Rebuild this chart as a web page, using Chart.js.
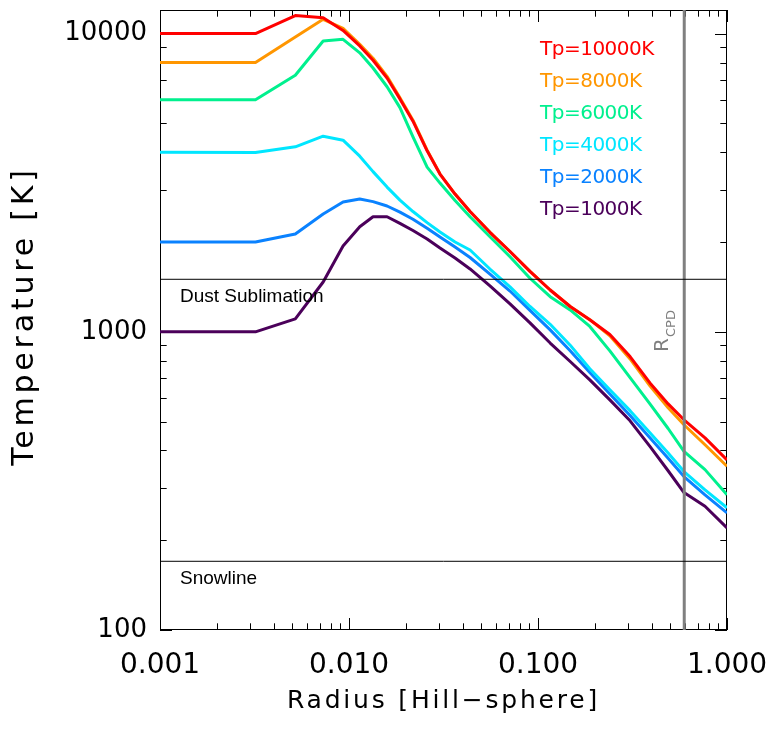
<!DOCTYPE html>
<html>
<head>
<meta charset="utf-8">
<title>Temperature vs radius</title>
<script src="https://cdn.jsdelivr.net/npm/chart.js@4.4.1/dist/chart.umd.min.js"></script>
<style>
  html, body { margin: 0; padding: 0; background: #fff; }
  #wrap { width: 773px; height: 729px; }
</style>
</head>
<body>
<div id="wrap"><canvas id="tempChart"></canvas></div>
<script>
// radius in Hill-sphere units
const radius = [0.001, 0.0032, 0.0052, 0.0073, 0.0093, 0.0114, 0.0134, 0.0159, 0.0186, 0.0218,
                0.0259, 0.0303, 0.0364, 0.0437, 0.0557, 0.0711, 0.0907, 0.116, 0.148, 0.188,
                0.240, 0.307, 0.391, 0.488, 0.592, 0.765, 1.0];

// temperature [K] for each planet temperature Tp
const tp10000 = [10000, 10000, 11500, 11300, 10250, 9090, 8140, 7100, 6040, 5085,
                 4046, 3380, 2896, 2531, 2156, 1859, 1594, 1381, 1216, 1098,
                 979, 826, 674, 573, 507, 441, 372];
const tp8000 = [8000, 8000, 9740, 11170, 10420, 9210, 8270, 7190, 6095, 5124,
                4066, 3380, 2896, 2531, 2156, 1859, 1594, 1381, 1216, 1098,
                969, 811, 659, 556, 488, 418, 354];
const tp6000 = [6000, 6000, 7250, 9445, 9570, 8620, 7667, 6635, 5646, 4508,
                3566, 3153, 2756, 2431, 2084, 1785, 1512, 1312, 1184, 1042,
                863, 702, 573, 474, 397, 345, 284];
const tp4000 = [4000, 3990, 4171, 4530, 4392, 3882, 3445, 3057, 2765, 2531,
                2323, 2161, 2001, 1881, 1624, 1414, 1216, 1060, 902, 752,
                639, 544, 459, 392, 340, 295, 257];
const tp2000 = [2000, 2000, 2128, 2482, 2723, 2787, 2732, 2642, 2519, 2385,
                2225, 2079, 1924, 1775, 1560, 1370, 1180, 1015, 864, 731,
                619, 524, 441, 377, 327, 284, 247];
const tp1000 = [1000, 1000, 1105, 1469, 1940, 2250, 2431, 2431, 2311, 2186,
                2048, 1910, 1768, 1625, 1425, 1240, 1071, 917, 795, 690,
                591, 503, 413, 342, 289, 260, 220];

const seriesLabels = ['Tp=10000K', 'Tp=8000K', 'Tp=6000K', 'Tp=4000K', 'Tp=2000K', 'Tp=1000K'];
const seriesValues = [tp10000, tp8000, tp6000, tp4000, tp2000, tp1000];
const seriesColors = ['#ff0000', '#ff9600', '#00f08e', '#00e6ff', '#0a82ff', '#4b005a'];

const dustT = 1500;   // dust sublimation
const snowT = 170;    // snowline
const rCPD = 0.594;   // circumplanetary disc radius

const xTickLabels = ['0.001', '0.010', '0.100', '1.000'];
const yTickLabels = ['100', '1000', '10000'];

const xMin = 0.001, xMax = 1.0;
const yMin = 100, yMax = 12000;

function isDecade(v) {
    const l = Math.log10(v);
    return Math.abs(l - Math.round(l)) < 1e-6;
}

// 1..9 x 10^n ticks between min and max
function logTicks(min, max) {
    const out = [];
    for (let e = Math.floor(Math.log10(min)); e <= Math.ceil(Math.log10(max)); e++) {
        for (let m = 1; m <= 9; m++) {
            const v = Number((m * Math.pow(10, e)).toPrecision(4));
            if (v >= min * 0.999999 && v <= max * 1.000001) out.push({ value: v });
        }
    }
    return out;
}

const refLines = [
    { data: [{ x: xMin, y: dustT }, { x: xMax, y: dustT }], borderColor: '#000', borderWidth: 1 },
    { data: [{ x: xMin, y: snowT }, { x: xMax, y: snowT }], borderColor: '#000', borderWidth: 1 },
    { data: [{ x: rCPD, y: yMin }, { x: rCPD, y: yMax }], borderColor: '#808080', borderWidth: 3 }
];

const curves = seriesValues.map((vals, i) => ({
    label: seriesLabels[i],
    data: radius.map((r, j) => ({ x: r, y: vals[j] })),
    borderColor: seriesColors[i],
    borderWidth: 3
}));

const idlFrame = {
    id: 'idlFrame',
    beforeDatasetsDraw(chart) {
        const { ctx, chartArea: a, scales: { x, y } } = chart;
        ctx.save();
        ctx.strokeStyle = '#000';
        ctx.lineWidth = 1;
        ctx.strokeRect(a.left + 0.5, a.top + 0.5, a.right - a.left - 1, a.bottom - a.top - 1);
        ctx.beginPath();
        x.ticks.forEach(t => {
            const px = Math.round(x.getPixelForValue(t.value)) + 0.5;
            const len = isDecade(t.value) ? 12 : 6.7;
            ctx.moveTo(px, a.bottom); ctx.lineTo(px, a.bottom - len);
            ctx.moveTo(px, a.top); ctx.lineTo(px, a.top + len);
        });
        y.ticks.forEach(t => {
            const py = Math.round(y.getPixelForValue(t.value)) + 0.5;
            const len = isDecade(t.value) ? 12 : 6.7;
            ctx.moveTo(a.left, py); ctx.lineTo(a.left + len, py);
            ctx.moveTo(a.right, py); ctx.lineTo(a.right - len, py);
        });
        ctx.stroke();
        ctx.restore();
    },
    afterDatasetsDraw(chart) {
        const { ctx, chartArea: a, scales: { x, y } } = chart;
        ctx.save();
        ctx.textAlign = 'left';
        ctx.textBaseline = 'alphabetic';

        // legend as coloured text
        ctx.font = '20px "DejaVu Sans"';
        ctx.letterSpacing = '-0.5px';
        seriesLabels.forEach((lab, i) => {
            ctx.fillStyle = seriesColors[i];
            ctx.fillText(lab, 540, 55 + 32 * i);
        });

        // reference line labels
        ctx.letterSpacing = '0px';
        ctx.fillStyle = '#000';
        ctx.font = '19px "Liberation Sans"';
        ctx.fillText('Dust Sublimation', a.left + 20, y.getPixelForValue(dustT) + 23);
        ctx.fillText('Snowline', a.left + 20, y.getPixelForValue(snowT) + 23);

        // R_CPD, rotated
        const rx = x.getPixelForValue(rCPD);
        ctx.save();
        ctx.translate(rx - 16, 352);
        ctx.rotate(-Math.PI / 2);
        ctx.fillStyle = '#808080';
        ctx.font = '20px "DejaVu Sans"';
        ctx.fillText('R', 0, 0);
        ctx.font = '13px "DejaVu Sans"';
        ctx.fillText('CPD', 15, 7);
        ctx.restore();

        // axis titles
        ctx.font = '25px "DejaVu Sans"';
        ctx.letterSpacing = '2.8px';
        ctx.textAlign = 'center';
        ctx.fillText('Radius [Hill\u2212sphere]', (a.left + a.right) / 2, 708);
        ctx.save();
        ctx.translate(32.5, 316);
        ctx.rotate(-Math.PI / 2);
        ctx.font = '30px "DejaVu Sans"';
        ctx.letterSpacing = '3.8px';
        ctx.fillText('Temperature [K]', 0, 0);
        ctx.restore();

        ctx.restore();
    }
};

new Chart(document.getElementById('tempChart'), {
    type: 'line',
    data: { datasets: [...refLines, ...curves] },
    options: {
        responsive: true,
        maintainAspectRatio: false,
        animation: false,
        layout: { padding: { top: 10, right: 46, left: 0, bottom: 0 } },
        elements: {
            point: { radius: 0 },
            line: { tension: 0, borderJoinStyle: 'round', fill: false }
        },
        plugins: { legend: { display: false }, tooltip: { enabled: false } },
        scales: {
            x: {
                type: 'logarithmic',
                min: xMin,
                max: xMax,
                grid: { display: false, drawTicks: false },
                border: { display: false },
                afterBuildTicks: s => { s.ticks = logTicks(xMin, xMax); },
                afterFit: s => { s.height = 99; s.paddingLeft = 0; s.paddingRight = 0; },
                ticks: {
                    autoSkip: false,
                    maxRotation: 0,
                    minRotation: 0,
                    padding: 19,
                    color: '#000',
                    font: { family: '"DejaVu Sans"', size: 28 },
                    callback: v => isDecade(v) ? xTickLabels[Math.round(Math.log10(v)) + 3] : ''
                }
            },
            y: {
                type: 'logarithmic',
                min: yMin,
                max: yMax,
                grid: { display: false, drawTicks: false },
                border: { display: false },
                afterBuildTicks: s => { s.ticks = logTicks(yMin, yMax); },
                afterFit: s => { s.width = 160; s.paddingTop = 0; s.paddingBottom = 0; },
                ticks: {
                    autoSkip: false,
                    padding: 13,
                    color: '#000',
                    font: { family: '"DejaVu Sans"', size: 26 },
                    callback: v => isDecade(v) ? yTickLabels[Math.round(Math.log10(v)) - 2] : ''
                }
            }
        }
    },
    plugins: [idlFrame]
});
</script>
</body>
</html>
